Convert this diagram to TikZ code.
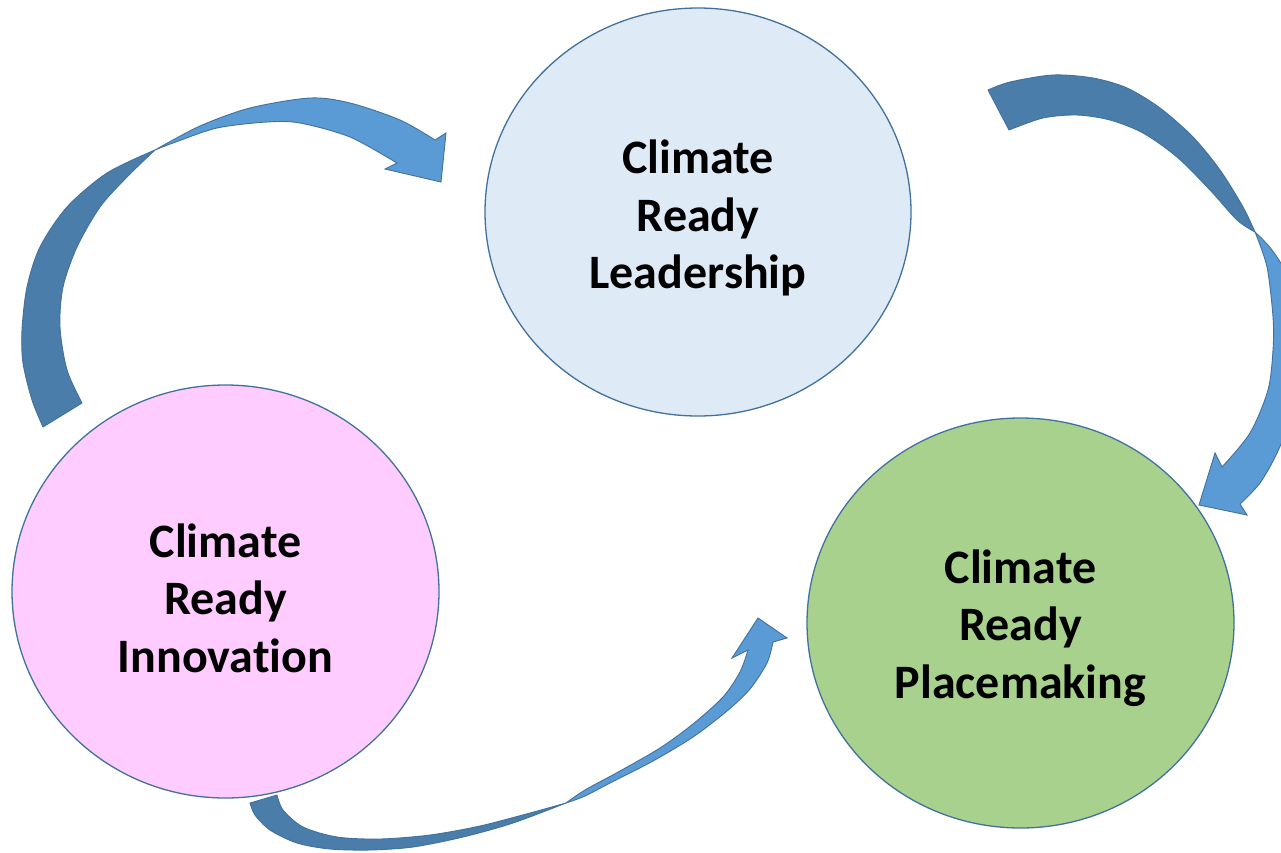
\documentclass[tikz,border=0pt]{standalone}
\usepackage{fontspec}
\setmainfont{Carlito}[Ligatures={NoCommon}]
\usetikzlibrary{shapes.geometric}
\definecolor{edgeblue}{HTML}{41719C}
\definecolor{darkband}{HTML}{4A7DAA}
\definecolor{lightband}{HTML}{5B9BD5}
\definecolor{leadfill}{HTML}{DEEAF6}
\definecolor{innofill}{HTML}{FFCCFF}
\definecolor{placefill}{HTML}{A9D18E}
\tikzset{
  bubble/.style={ellipse, draw=edgeblue, line width=1.3pt, inner sep=0pt},
  label3/.style={font=\fontsize{48}{57.5}\selectfont\bfseries, align=center, inner sep=0pt},
  backband/.style={fill=darkband, draw=edgeblue, line width=0.9pt, line join=round},
  frontband/.style={fill=lightband, draw=edgeblue, line width=0.9pt, line join=miter}
}
\begin{document}
\begin{tikzpicture}[x=1pt, y=-1pt]
\useasboundingbox (0,0) rectangle (1281,852);
\fill[white] (0,0) rectangle (1281,852);

\node[bubble, fill=leadfill, minimum width=426pt, minimum height=408pt] (lead) at (698,212) {};
\node[bubble, fill=innofill, minimum width=427pt, minimum height=413pt] (inno) at (225.5,591.5) {};
\node[bubble, fill=placefill, minimum width=427pt, minimum height=410pt] (place) at (1020.5,623) {};
\node[label3] (leadtext) at (698,218) {Climate\\Ready\\Leadership};
\node[label3] (innotext) at (225.5,598) {Climate\\Ready\\Innovation};
\node[label3] (placetext) at (1020.5,628) {Climate\\Ready\\Placemaking};

\begin{scope}
\clip (0,0) rectangle (1281,852);
% arrow 1: Innovation -> Leadership
\path[backband] (82,403) -- (43,427)
  -- plot[smooth] coordinates {(43,427) (32,400) (23,363) (22,330) (27,287) (40,247) (67,207) (107,173) (155,150)}
  -- plot[smooth] coordinates {(155,150) (127,177) (100,207) (77,247) (63,287) (60,327) (67,370) (82,403)}
  -- cycle;
\path[frontband] (155,150)
  -- plot[smooth] coordinates {(155,150) (200,126) (250,108) (310,98) (350,103) (400,120) (435,140)}
  -- (446,133) -- (441,182) -- (385,169) -- (397,163)
  -- plot[smooth] coordinates {(397,163) (350,137) (300,123) (267,122) (217,128) (173,143) (155,150)}
  -- cycle;

% arrow 2: Leadership -> Placemaking
\path[backband] (1009,130) -- (988,90)
  -- plot[smooth] coordinates {(988,90) (1010,82) (1053,75) (1093,78) (1127,88) (1160,108) (1193,137) (1220,170) (1243,207) (1255,232)}
  -- plot[smooth] coordinates {(1255,232) (1237,220) (1210,190) (1177,157) (1143,133) (1110,120) (1077,115) (1043,118) (1009,130)}
  -- cycle;
\path[frontband] (1255,232)
  -- plot[smooth] coordinates {(1255,232) (1267,267) (1273,317) (1273,350) (1268,390) (1250,433) (1222,467)}
  -- (1215,453) -- (1199,505) -- (1247,515) -- (1240,504)
  -- plot[smooth] coordinates {(1240,504) (1260,483) (1277,453) (1292,415) (1300,370) (1300,320) (1290,280) (1272,250) (1255,232)}
  -- cycle;

% arrow 3: Innovation -> Placemaking
\path[backband] (277,795) -- (250,803)
  -- plot[smooth] coordinates {(250,803) (255,815) (270,830) (297,843) (330,849) (370,850) (413,847) (463,837) (513,823) (566,803)}
  -- plot[smooth] coordinates {(566,803) (530,813) (480,826) (430,835) (380,839) (337,837) (303,827) (283,810) (277,795)}
  -- cycle;
\path[frontband] (566,803)
  -- plot[smooth] coordinates {(566,803) (585,790) (620,771) (660,748) (693,724) (723,697) (740,672) (748,650)}
  -- (732,658) -- (758,618) -- (787,638) -- (773,642)
  -- plot[smooth] coordinates {(773,642) (767,663) (750,689) (727,711) (693,737) (653,761) (610,783) (585,796) (566,803)}
  -- cycle;
\end{scope}
\end{tikzpicture}
\end{document}
